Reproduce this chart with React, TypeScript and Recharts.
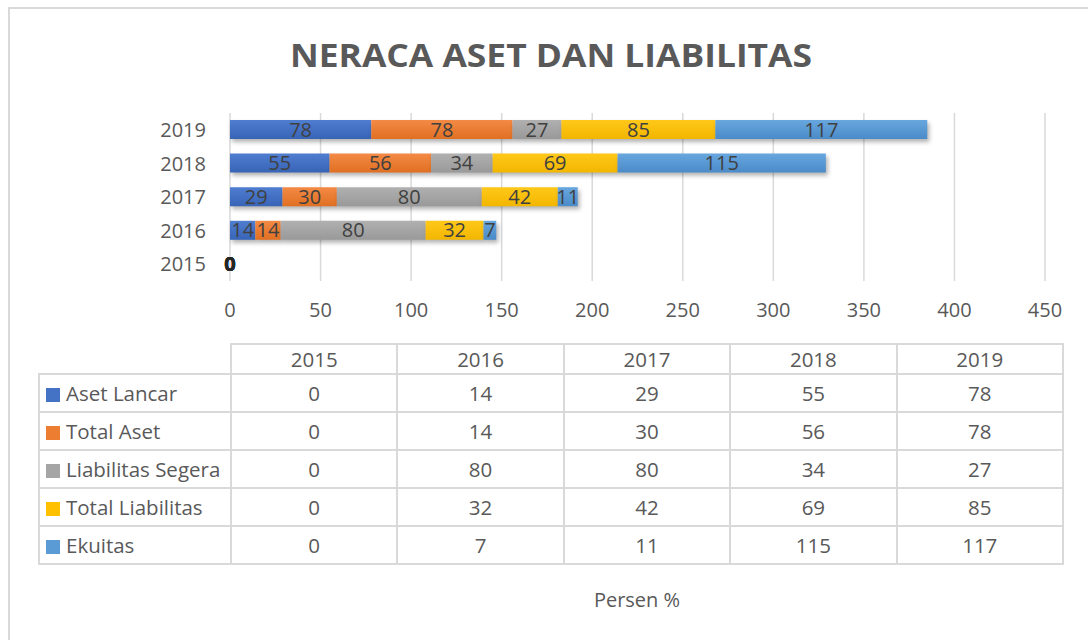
import { BarChart, Bar, XAxis, YAxis, CartesianGrid, LabelList, ReferenceDot } from 'recharts'

const years = ['2015', '2016', '2017', '2018', '2019']
const asetLancar = [0, 14, 29, 55, 78]
const totalAset = [0, 14, 30, 56, 78]
const liabilitasSegera = [0, 80, 80, 34, 27]
const totalLiabilitas = [0, 32, 42, 69, 85]
const ekuitas = [0, 7, 11, 115, 117]
const xTicks = [0, 50, 100, 150, 200, 250, 300, 350, 400, 450]

const series = [
  { key: 'asetLancar', name: 'Aset Lancar', values: asetLancar, color: '#4472C4', top: '#4f7dd0', bottom: '#3864b6' },
  { key: 'totalAset', name: 'Total Aset', values: totalAset, color: '#ED7D31', top: '#f38a45', bottom: '#e06f22' },
  { key: 'liabilitasSegera', name: 'Liabilitas Segera', values: liabilitasSegera, color: '#A5A5A5', top: '#b0b0b0', bottom: '#999999' },
  { key: 'totalLiabilitas', name: 'Total Liabilitas', values: totalLiabilitas, color: '#FFC000', top: '#ffc819', bottom: '#f2b600' },
  { key: 'ekuitas', name: 'Ekuitas', values: ekuitas, color: '#5B9BD5', top: '#68a6de', bottom: '#4a8bc8' },
]

const data = years.map((year, i) => {
  const row: Record<string, string | number> = { year }
  series.forEach((s) => { row[s.key] = s.values[i] })
  return row
})

// zero-width segments get no label from the Bar, so mark them separately
const zeroMarks: { x: number; y: string; key: string }[] = []
years.forEach((year, i) => {
  let base = 0
  series.forEach((s) => {
    if (s.values[i] === 0) zeroMarks.push({ x: base, y: year, key: `${s.key}-${year}` })
    base += s.values[i]
  })
})

const FONT = '"Open Sans", "Noto Sans", sans-serif'
const TEXT = '#595959'
const LINE = '#d9d9d9'

export default function App() {
  return (
    <div style={{ position: 'absolute', left: 0, top: 0, width: 1088, height: 640, overflow: 'hidden', background: '#fff', fontFamily: FONT }}>
      <style>{`.recharts-bar-rectangle path { filter: drop-shadow(2px 3px 2px rgba(0,0,0,0.3)); }`}</style>
      {/* chart frame, only left and top edges show */}
      <div style={{ position: 'absolute', left: 8, top: 7, width: 1200, height: 800, border: `2px solid ${LINE}` }} />

      <svg style={{ position: 'absolute', left: 0, top: 0 }} width={1088} height={100}>
        <text x={551} y={67} textAnchor="middle" fontSize={33} fontWeight={700} fill={TEXT} textLength={522} lengthAdjust="spacingAndGlyphs">
          NERACA ASET DAN LIABILITAS
        </text>
      </svg>

      <div style={{ position: 'absolute', left: 0, top: 0 }}>
        <BarChart width={1088} height={330} data={data} layout="vertical" margin={{ top: 113, right: 43, bottom: 19, left: 150 }} barSize={19}>
          <defs>
            {series.map((s) => (
              <linearGradient key={s.key} id={`g-${s.key}`} x1="0" y1="0" x2="0" y2="1">
                <stop offset="0%" stopColor={s.top} />
                <stop offset="100%" stopColor={s.bottom} />
              </linearGradient>
            ))}
          </defs>
          <CartesianGrid horizontal={false} stroke={LINE} strokeWidth={1.5} />
          <XAxis
            type="number"
            domain={[0, 450]}
            ticks={xTicks}
            axisLine={false}
            tickLine={false}
            tickSize={0}
            tickMargin={22}
            height={30}
            tick={{ fill: TEXT, fontSize: 20, fontFamily: FONT }}
          />
          <YAxis
            type="category"
            dataKey="year"
            reversed
            width={80}
            axisLine={false}
            tickLine={false}
            tickSize={0}
            tickMargin={24}
            tick={{ fill: TEXT, fontSize: 20, fontFamily: FONT }}
          />
          {series.map((s) => (
            <Bar key={s.key} dataKey={s.key} name={s.name} stackId="a" fill={`url(#g-${s.key})`} isAnimationActive={false}>
              <LabelList dataKey={s.key} position="center" fill="#404040" fontSize={20} fontFamily={FONT} />
            </Bar>
          ))}
          {zeroMarks.map((m) => (
            <ReferenceDot
              key={m.key}
              x={m.x}
              y={m.y}
              r={0}
              fill="none"
              stroke="none"
              label={{ value: '0', position: 'center', fill: '#262626', fontSize: 20, fontWeight: 700, fontFamily: FONT }}
            />
          ))}
        </BarChart>
      </div>

      <table style={{ position: 'absolute', left: 38, top: 343, width: 1024, borderCollapse: 'collapse', tableLayout: 'fixed', color: TEXT, fontSize: 20.5, fontFamily: FONT }}>
        <colgroup>
          <col style={{ width: 192 }} />
          {years.map((y) => <col key={y} style={{ width: 166.4 }} />)}
        </colgroup>
        <tbody>
          <tr style={{ height: 30 }}>
            <td style={{ border: 'none', borderBottom: `2px solid ${LINE}` }} />
            {years.map((y) => (
              <td key={y} style={{ border: `2px solid ${LINE}`, textAlign: 'center', padding: 0, lineHeight: '26px' }}>{y}</td>
            ))}
          </tr>
          {series.map((s) => (
            <tr key={s.key} style={{ height: 38 }}>
              <td style={{ border: `2px solid ${LINE}`, padding: '0 0 0 6px', whiteSpace: 'nowrap', overflow: 'hidden' }}>
                <span style={{ display: 'inline-block', width: 14, height: 14, background: s.color, marginRight: 6, verticalAlign: '-1px' }} />
                {s.name}
              </td>
              {s.values.map((v, i) => (
                <td key={i} style={{ border: `2px solid ${LINE}`, textAlign: 'center', padding: 0 }}>{v}</td>
              ))}
            </tr>
          ))}
        </tbody>
      </table>

      <div style={{ position: 'absolute', left: 537, width: 200, top: 586, textAlign: 'center', color: TEXT, fontSize: 20 }}>Persen %</div>
    </div>
  )
}
